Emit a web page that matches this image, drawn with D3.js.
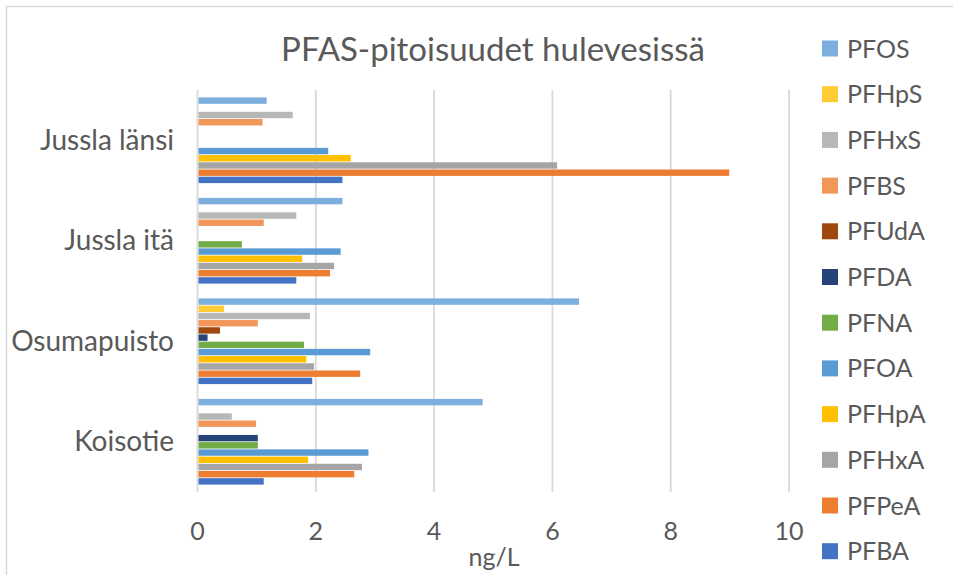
<!DOCTYPE html>
<html>
<head>
<meta charset="utf-8">
<script src="https://cdn.jsdelivr.net/npm/d3@7"></script>
<style>
  body { margin: 0; background: #fff; }
  text { font-family: Lato, "Open Sans", sans-serif; fill: #595959; }
</style>
</head>
<body>
<div id="chart"></div>
<script>
// categories, bottom group first (like Excel)
const categories = ["Koisotie", "Osumapuisto", "Jussla itä", "Jussla länsi"];
// series, in legend order (top of each group first)
const seriesNames = ["PFOS", "PFHpS", "PFHxS", "PFBS", "PFUdA", "PFDA", "PFNA", "PFOA", "PFHpA", "PFHxA", "PFPeA", "PFBA"];
const seriesColors = ["#7cafdd", "#ffcd33", "#b7b7b7", "#f1975a", "#9e480e", "#264478", "#70ad47", "#5b9bd5", "#ffc000", "#a5a5a5", "#ed7d31", "#4472c4"];
// values per series, same order as categories
const PFOS  = [4.82, 6.45, 2.45, 1.17];
const PFHpS = [0, 0.45, 0, 0];
const PFHxS = [0.58, 1.90, 1.67, 1.61];
const PFBS  = [0.99, 1.02, 1.12, 1.10];
const PFUdA = [0, 0.38, 0, 0];
const PFDA  = [1.02, 0.17, 0, 0];
const PFNA  = [1.02, 1.80, 0.75, 0];
const PFOA  = [2.89, 2.92, 2.42, 2.21];
const PFHpA = [1.87, 1.84, 1.77, 2.59];
const PFHxA = [2.78, 1.97, 2.31, 6.08];
const PFPeA = [2.65, 2.75, 2.24, 8.99];
const PFBA  = [1.12, 1.94, 1.67, 2.45];
const xTicks = [0, 2, 4, 6, 8, 10];

const seriesValues = [PFOS, PFHpS, PFHxS, PFBS, PFUdA, PFDA, PFNA, PFOA, PFHpA, PFHxA, PFPeA, PFBA];

const WIDTH = 953, HEIGHT = 575;
const PLOT = { left: 197.5, right: 789, top: 90, bottom: 492 };

const svg = d3.select("#chart").append("svg")
  .attr("width", WIDTH).attr("height", HEIGHT);

// chart border (only left/top visible in the picture)
svg.append("rect")
  .attr("x", 6.5).attr("y", 6.5)
  .attr("width", WIDTH + 10).attr("height", HEIGHT + 10)
  .attr("fill", "none").attr("stroke", "#d9d9d9").attr("stroke-width", 1.5);

const xScale = d3.scaleLinear().domain([0, 10]).range([PLOT.left, PLOT.right]);
const yScale = d3.scaleBand().domain(categories.slice().reverse()).range([PLOT.top, PLOT.bottom]);
const inner = d3.scaleBand().domain(seriesNames).range([7, yScale.bandwidth() - 7]);

// gridlines
svg.append("g")
  .selectAll("line")
  .data(xTicks)
  .enter().append("line")
  .attr("x1", d => xScale(d)).attr("x2", d => xScale(d))
  .attr("y1", PLOT.top).attr("y2", PLOT.bottom)
  .attr("stroke", "#d9d9d9").attr("stroke-width", 1.8);

// bars
const groups = svg.append("g")
  .selectAll("g")
  .data(categories)
  .enter().append("g")
  .attr("transform", d => "translate(0," + yScale(d) + ")");

groups.selectAll("rect")
  .data((c, ci) => seriesNames.map((s, si) => ({ s: s, color: seriesColors[si], v: seriesValues[si][ci] })))
  .enter().append("rect")
  .filter(d => d.v > 0)
  .attr("x", xScale(0) + 1)
  .attr("y", d => inner(d.s) + 0.4)
  .attr("width", d => xScale(d.v) - xScale(0) - 1)
  .attr("height", inner.bandwidth() - 0.8)
  .attr("fill", d => d.color);

// category labels
svg.append("g")
  .selectAll("text")
  .data(categories)
  .enter().append("text")
  .attr("x", 174)
  .attr("y", d => yScale(d) + yScale.bandwidth() / 2 + 9.5)
  .attr("text-anchor", "end")
  .style("font-size", "28px")
  .text(d => d);

// x tick labels
svg.append("g")
  .selectAll("text")
  .data(xTicks)
  .enter().append("text")
  .attr("x", d => xScale(d))
  .attr("y", 540)
  .attr("text-anchor", "middle")
  .style("font-size", "25px")
  .text(d => d);

// axis title
svg.append("text")
  .attr("x", 494).attr("y", 566)
  .attr("text-anchor", "middle")
  .style("font-size", "25px")
  .text("ng/L");

// chart title
svg.append("text")
  .attr("x", 493).attr("y", 61)
  .attr("text-anchor", "middle")
  .style("font-size", "33px")
  .text("PFAS-pitoisuudet hulevesissä");

// legend
const legend = svg.append("g")
  .selectAll("g")
  .data(seriesNames)
  .enter().append("g")
  .attr("transform", (d, i) => "translate(822," + (48.5 + i * 45.7) + ")");

legend.append("rect")
  .attr("x", 0).attr("y", -8)
  .attr("width", 16).attr("height", 16)
  .attr("fill", (d, i) => seriesColors[i]);

legend.append("text")
  .attr("x", 25).attr("y", 9)
  .style("font-size", "25px")
  .text(d => d);
</script>
</body>
</html>
